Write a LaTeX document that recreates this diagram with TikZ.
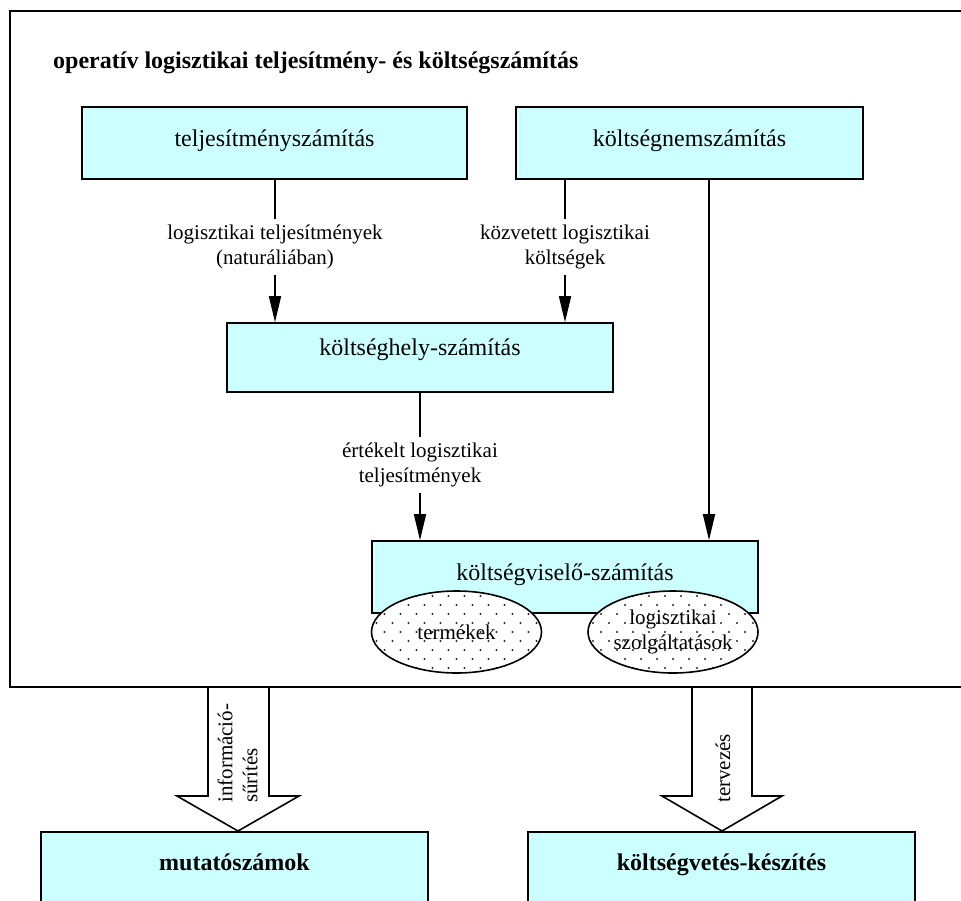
\documentclass[tikz,border=0pt]{standalone}
\usepackage{fontspec}
\setmainfont{Liberation Serif}
\usetikzlibrary{arrows.meta,shapes.geometric,calc}
\definecolor{boxfill}{HTML}{CCFFFF}
\tikzset{
  box/.style={draw, line width=1.6pt, fill=boxfill, inner sep=0pt,
    font=\fontsize{24pt}{28pt}\selectfont},
  boldbox/.style={box, font=\bfseries\fontsize{24pt}{28pt}\selectfont},
  lbl/.style={font=\fontsize{21pt}{25pt}\selectfont, align=center, inner sep=6pt},
  flow/.style={line width=1.6pt, -{Triangle[length=26pt,width=12pt]}},
  plain/.style={line width=1.6pt},
  bigarr/.style={draw, line width=1.6pt, fill=white, line join=miter},
  dotell/.style={ellipse, draw, line width=1.6pt, fill=white,
    minimum width=170pt, minimum height=82pt, inner sep=0pt,
    path picture={
      \foreach \r in {0,...,10}{
        \pgfmathsetmacro\dy{\r*9-45}
        \pgfmathsetmacro\off{mod(\r,2)*8-96}
        \foreach \c in {0,...,12}{
          \pgfmathsetmacro\dx{\c*16+\off}
          \fill[black!85] ([shift={(\dx,\dy)}]path picture bounding box.center) circle (1.1pt);
        }
      }
    }},
}
\begin{document}
\begin{tikzpicture}[x=1pt,y=-1pt]
\useasboundingbox (0,0) rectangle (961,900);
\clip (0,0) rectangle (961,900);

% outer frame of the operative calculation
\node[draw, line width=1.6pt, minimum width=980pt, minimum height=676pt,
      anchor=north west, inner sep=0pt] (frame) at (9,10) {};
\node[anchor=base west, inner sep=0pt, font=\bfseries\fontsize{24pt}{28pt}\selectfont]
  (title) at (53,68) {operatív logisztikai teljesítmény- és költségszámítás};

% calculation blocks
\node[box, minimum width=385pt, text height=39pt, text depth=33pt] (telj) at (274.5,143) {teljesítményszámítás};
\node[box, minimum width=347pt, text height=39pt, text depth=33pt] (knem) at (689.5,143) {költségnemszámítás};
\node[box, minimum width=386pt, text height=32pt, text depth=37pt] (khely) at (420,357.5) {költséghely-számítás};
\node[box, minimum width=386pt, text height=39pt, text depth=33pt] (kvis) at (565,577) {költségviselő-számítás};

% cost objects
\node[dotell] (ell1) at (456.5,632) {};
\node[dotell] (ell2) at (673,632) {};
\node[lbl, inner sep=0pt] (ell1t) at (ell1) {termékek};
\node[lbl, inner sep=0pt] (ell2t) at (ell2) {logisztikai\\szolgáltatások};

% flow labels
\node[lbl] (l1) at (275,247) {logisztikai teljesítmények\\(naturáliában)};
\node[lbl] (l2) at (565,247) {közvetett logisztikai\\költségek};
\node[lbl] (l3) at (420,465) {értékelt logisztikai\\teljesítmények};

% flows
\draw[plain] (l1 |- telj.south) -- (l1.north);
\draw[flow] (l1.south) -- (l1 |- khely.north);
\draw[plain] (l2 |- knem.south) -- (l2.north);
\draw[flow] (l2.south) -- (l2 |- khely.north);
\draw[plain] (l3 |- khely.south) -- (l3.north);
\draw[flow] (l3.south) -- (l3 |- kvis.north);
\draw[flow] ([xshift=19.5pt]knem.south) -- ([xshift=19.5pt]knem.south |- kvis.north);

% output blocks
\node[boldbox, minimum width=387pt, text height=39pt, text depth=60pt, anchor=north] (mut) at (234.5,831) {mutatószámok};
\node[boldbox, minimum width=387pt, text height=39pt, text depth=60pt, anchor=north] (kvk) at (721.5,831) {költségvetés-készítés};

% block arrows
\draw[bigarr] ([xshift=3.5pt]mut.north) -- ++(61,-35) -- ++(-30,0) -- ++(0,-109)
  -- ++(-61,0) -- ++(0,109) -- ++(-31,0) -- cycle;
\draw[bigarr] ([xshift=0.5pt]kvk.north) -- ++(60,-35) -- ++(-30,0) -- ++(0,-109)
  -- ++(-60,0) -- ++(0,109) -- ++(-30,0) -- cycle;
\node[font=\fontsize{21pt}{25pt}\selectfont, rotate=90, anchor=west, align=left, inner sep=0pt]
  (a1t) at (237.5,803) {információ-\\sűrítés};
\node[font=\fontsize{21pt}{25pt}\selectfont, rotate=90, anchor=base west, inner sep=0pt]
  (a2t) at (730,803) {tervezés};
\end{tikzpicture}
\end{document}
